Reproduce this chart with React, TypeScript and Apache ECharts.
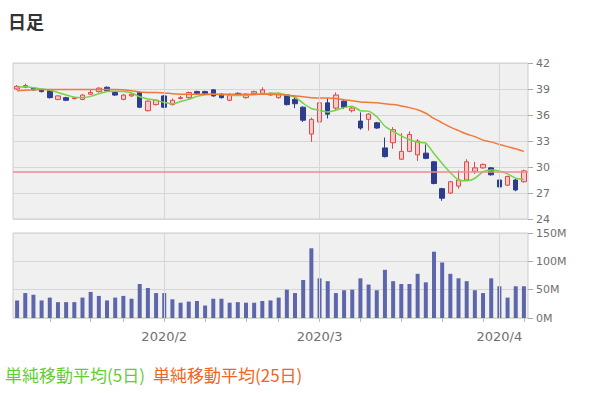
import React, { useEffect, useRef } from "react";
import * as echarts from "echarts";

const dates = [
  "2020/1/7", "2020/1/8", "2020/1/9", "2020/1/10", "2020/1/13", "2020/1/14", "2020/1/15", "2020/1/16", "2020/1/17", "2020/1/21",
  "2020/1/22", "2020/1/23", "2020/1/24", "2020/1/27", "2020/1/28", "2020/1/29", "2020/1/30", "2020/1/31",
  "2020/2/3", "2020/2/4", "2020/2/5", "2020/2/6", "2020/2/7", "2020/2/10", "2020/2/11", "2020/2/12", "2020/2/13", "2020/2/14",
  "2020/2/18", "2020/2/19", "2020/2/20", "2020/2/21", "2020/2/24", "2020/2/25", "2020/2/26", "2020/2/27", "2020/2/28",
  "2020/3/2", "2020/3/3", "2020/3/4", "2020/3/5", "2020/3/6", "2020/3/9", "2020/3/10", "2020/3/11", "2020/3/12", "2020/3/13",
  "2020/3/16", "2020/3/17", "2020/3/18", "2020/3/19", "2020/3/20", "2020/3/23", "2020/3/24", "2020/3/25", "2020/3/26", "2020/3/27",
  "2020/3/30", "2020/3/31",
  "2020/4/1", "2020/4/2", "2020/4/3", "2020/4/6",
];

const opens = [
  39.0, 39.2, 39.1, 38.9, 38.8, 37.8, 38.0, 37.9, 37.8, 38.4,
  38.7, 39.2, 38.6, 37.8, 38.2, 38.6, 36.5, 37.2, 38.2, 37.2,
  37.9, 38.0, 38.7, 38.7, 38.9, 38.4, 37.7, 38.5, 38.0, 38.5,
  38.5, 38.3, 38.0, 38.3, 37.8, 36.9, 33.8, 35.2, 37.4, 36.8,
  37.6, 36.5, 35.3, 35.5, 35.1, 32.2, 32.8, 30.9, 31.8, 31.4,
  31.6, 30.6, 27.5, 27.0, 27.8, 28.5, 29.5, 29.9, 29.9, 28.5,
  27.9, 28.5, 28.3,
];
const closes = [
  39.3, 39.4, 38.9, 38.7, 38.0, 38.2, 37.7, 38.0, 38.3, 38.6,
  39.1, 38.8, 38.3, 38.3, 38.4, 36.9, 37.6, 37.7, 36.9, 37.7,
  38.0, 38.6, 38.5, 38.5, 38.2, 38.0, 38.3, 38.3, 38.4, 38.7,
  38.9, 38.5, 38.4, 37.2, 37.3, 35.4, 35.5, 37.4, 36.1, 38.3,
  36.9, 36.8, 34.5, 36.1, 34.5, 31.2, 34.3, 31.8, 33.75, 33.0,
  31.0, 28.1, 26.4, 28.3, 28.5, 30.6, 29.9, 30.3, 29.1, 27.7,
  28.9, 27.35, 29.55,
];
const lows = [
  38.9, 39.1, 38.8, 38.6, 37.9, 37.7, 37.6, 37.8, 37.7, 38.3,
  38.6, 38.7, 38.2, 37.7, 38.1, 36.8, 36.4, 37.1, 36.8, 37.1,
  37.8, 37.9, 38.4, 38.4, 38.1, 37.9, 37.6, 38.2, 37.9, 38.4,
  38.4, 38.2, 37.9, 37.1, 36.8, 35.2, 32.9, 35.0, 35.6, 36.6,
  36.7, 36.3, 34.3, 34.2, 34.4, 31.1, 32.1, 30.8, 31.7, 30.7,
  30.9, 28.0, 26.1, 26.9, 27.5, 28.4, 29.2, 29.8, 29.0, 27.6,
  27.8, 27.2, 28.2,
];
const highs = [
  39.45, 39.6, 39.2, 39.0, 38.9, 38.3, 38.1, 38.1, 38.4, 38.9,
  39.2, 39.3, 38.7, 38.4, 38.5, 38.7, 37.7, 37.8, 38.3, 37.9,
  38.2, 38.7, 38.8, 38.8, 39.0, 38.5, 38.5, 38.6, 38.5, 38.8,
  39.2, 38.6, 38.5, 38.4, 38.3, 37.0, 35.7, 37.6, 37.9, 38.6,
  37.7, 36.9, 36.3, 36.2, 35.2, 33.4, 34.6, 33.9, 34.1, 33.2,
  32.6, 30.7, 27.6, 28.4, 29.6, 30.9, 30.6, 30.4, 30.0, 28.6,
  29.0, 28.6, 29.7,
];

// volume, in millions
const volumes = [
  31, 44, 41, 31, 36, 28, 28, 28, 36, 46,
  39, 31, 36, 39, 34, 60, 53, 44, 44, 33,
  27, 29, 30, 22, 34, 34, 27, 28, 27, 27,
  30, 31, 36, 50, 44, 67, 123, 70, 65, 44,
  49, 50, 70, 59, 49, 85, 65, 60, 60, 78,
  63, 117, 98, 78, 70, 65, 49, 44, 70, 56,
  36, 56, 56,
];

const ma5 = [
  39.2, 39.25, 39.15, 39.0, 38.85, 38.6, 38.3, 38.05, 38.0, 38.15,
  38.45, 38.7, 38.75, 38.7, 38.55, 38.1, 37.85, 37.7, 37.45, 37.3,
  37.55, 37.8, 38.15, 38.35, 38.4, 38.35, 38.3, 38.25, 38.25, 38.35,
  38.45, 38.5, 38.55, 38.3, 38.05, 37.35, 36.75, 36.55, 36.35, 36.55,
  36.85, 37.0, 36.5, 36.45, 35.8, 34.7, 34.1, 33.6, 33.15, 32.85,
  32.75, 31.55, 30.4, 29.35, 28.5, 28.4, 28.7, 29.45, 29.65, 29.55,
  29.2, 28.7, 28.55,
];

const ma25 = [
  38.8, 38.85, 38.9, 38.95, 38.95, 38.95, 38.95, 38.95, 38.95, 38.95,
  38.95, 38.95, 38.95, 38.9, 38.8, 38.65, 38.6, 38.6, 38.55, 38.45,
  38.4, 38.4, 38.4, 38.4, 38.4, 38.4, 38.4, 38.4, 38.4, 38.4,
  38.4, 38.4, 38.35, 38.3, 38.2, 38.1, 38.0, 37.95, 37.95, 37.9,
  37.75, 37.65, 37.5, 37.45, 37.4, 37.3, 37.2, 37.05, 36.85, 36.6,
  36.2, 35.6, 35.1, 34.6, 34.2, 33.8, 33.5, 33.1, 32.9, 32.6,
  32.35, 32.1, 31.8,
];

const referencePrice = 29.5;
const priceTicks = { min: 24, max: 42, interval: 3 };
const volumeTicks = { min: 0, max: 150, interval: 50 };

const titleText = "日足";
const legend5 = "単純移動平均(5日)";
const legend25 = "単純移動平均(25日)";

const COLORS = {
  up: "#f7c9c9",
  upBorder: "#e24848",
  down: "#2e3c8c",
  volume: "#5d66ab",
  ma5: "#74d443",
  ma25: "#ee7a3a",
  ref: "#ef8c8c",
  grid: "#d6d6d6",
  bg: "#f0f0f0",
  border: "#cccccc",
  label: "#707070",
};

export default function App() {
  const ref = useRef<HTMLDivElement>(null);

  useEffect(() => {
    if (!ref.current) return;
    const chart = echarts.init(ref.current, null, { renderer: "svg" });

    const parsed = dates.map((d) => {
      const [y, m, dd] = d.split("/").map(Number);
      return new Date(y, m - 1, dd);
    });
    const monthStart = parsed.map((d, i) => i > 0 && d.getMonth() !== parsed[i - 1].getMonth());
    const weekStart = parsed.map((d, i) => i > 0 && d.getDay() <= parsed[i - 1].getDay());
    const monthStartDates = dates.filter((_, i) => monthStart[i]);

    const candleData = dates.map((_, i) => [opens[i], closes[i], lows[i], highs[i]]);

    const yLabelFont = { color: COLORS.label, fontSize: 11, lineHeight: 11, fontFamily: "DejaVu Sans" };
    const xLabelFont = { color: COLORS.label, fontSize: 13, fontFamily: "DejaVu Sans" };

    const gridLineSeries = (idx: number) => ({
      type: "line",
      xAxisIndex: idx,
      yAxisIndex: idx,
      data: dates.map(() => "-"),
      z: 1,
      silent: true,
      markLine: {
        silent: true,
        symbol: ["none", "none"],
        label: { show: false },
        lineStyle: { color: COLORS.grid, type: "solid", width: 1 },
        emphasis: { disabled: true },
        data: monthStartDates.map((d) => ({ xAxis: d })),
      },
    });

    const option: any = {
      animation: false,
      backgroundColor: "#ffffff",
      graphic: [
        {
          type: "text",
          x: 8,
          y: 21,
          style: {
            text: titleText,
            fill: "#333333",
            font: 'bold 18px "Noto Sans CJK JP"',
            verticalAlign: "middle",
          },
        },
        {
          type: "text",
          x: 5,
          y: 374,
          style: {
            text: legend5,
            fill: "#66cc33",
            font: '17px "Noto Sans CJK JP"',
            verticalAlign: "middle",
          },
        },
        {
          type: "text",
          x: 153,
          y: 374,
          style: {
            text: legend25,
            fill: "#ee6622",
            font: '17px "Noto Sans CJK JP"',
            verticalAlign: "middle",
          },
        },
      ],
      grid: [
        {
          left: 13,
          right: 72,
          top: 63,
          height: 156,
          show: true,
          backgroundColor: COLORS.bg,
          borderColor: COLORS.border,
          borderWidth: 1,
        },
        {
          left: 13,
          right: 72,
          top: 233,
          height: 85,
          show: true,
          backgroundColor: COLORS.bg,
          borderColor: COLORS.border,
          borderWidth: 1,
        },
      ],
      xAxis: [
        {
          type: "category",
          gridIndex: 0,
          data: dates,
          boundaryGap: true,
          axisLine: { show: false },
          axisTick: { show: false },
          axisLabel: { show: false },
          splitLine: { show: false },
        },
        {
          type: "category",
          gridIndex: 1,
          data: dates,
          boundaryGap: true,
          axisLine: { show: false },
          axisTick: {
            show: true,
            alignWithLabel: true,
            interval: (i: number) => weekStart[i],
            length: 4,
            lineStyle: { color: "#bbbbbb" },
          },
          axisLabel: {
            ...xLabelFont,
            interval: (i: number) => monthStart[i],
            formatter: (v: string) => {
              const [y, m] = v.split("/");
              return `${y}/${m}`;
            },
            margin: 12,
          },
          splitLine: { show: false },
        },
      ],
      yAxis: [
        {
          type: "value",
          gridIndex: 0,
          position: "right",
          min: priceTicks.min,
          max: priceTicks.max,
          interval: priceTicks.interval,
          axisLine: { show: false },
          axisTick: { show: true, length: 5, lineStyle: { color: "#aaaaaa" } },
          axisLabel: { ...yLabelFont, margin: 8 },
          splitLine: { show: true, lineStyle: { color: COLORS.grid } },
        },
        {
          type: "value",
          gridIndex: 1,
          position: "right",
          min: volumeTicks.min,
          max: volumeTicks.max,
          interval: volumeTicks.interval,
          axisLine: { show: false },
          axisTick: { show: true, length: 5, lineStyle: { color: "#aaaaaa" } },
          axisLabel: { ...yLabelFont, margin: 8, formatter: "{value}M" },
          splitLine: { show: true, lineStyle: { color: COLORS.grid } },
        },
      ],
      series: [
        gridLineSeries(0),
        gridLineSeries(1),
        {
          name: "price",
          type: "candlestick",
          xAxisIndex: 0,
          yAxisIndex: 0,
          data: candleData,
          barWidth: 5,
          z: 3,
          itemStyle: {
            color: COLORS.up,
            color0: COLORS.down,
            borderColor: COLORS.upBorder,
            borderColor0: COLORS.down,
            borderWidth: 1,
          },
          markLine: {
            silent: true,
            symbol: ["none", "none"],
            label: { show: false },
            lineStyle: { color: COLORS.ref, type: "solid", width: 1.5 },
            data: [{ yAxis: referencePrice }],
          },
        },
        {
          name: legend5,
          type: "line",
          xAxisIndex: 0,
          yAxisIndex: 0,
          data: ma5,
          showSymbol: false,
          symbol: "none",
          smooth: 0.2,
          z: 4,
          lineStyle: { color: COLORS.ma5, width: 1.5 },
        },
        {
          name: legend25,
          type: "line",
          xAxisIndex: 0,
          yAxisIndex: 0,
          data: ma25,
          showSymbol: false,
          symbol: "none",
          smooth: 0.2,
          z: 4,
          lineStyle: { color: COLORS.ma25, width: 1.5 },
        },
        {
          name: "volume",
          type: "bar",
          xAxisIndex: 1,
          yAxisIndex: 1,
          data: volumes,
          barWidth: 4,
          z: 3,
          itemStyle: { color: COLORS.volume },
        },
      ],
    };

    chart.setOption(option);
    return () => {
      chart.dispose();
    };
  }, []);

  return (
    <div
      ref={ref}
      style={{ position: "fixed", left: 0, top: 0, width: 600, height: 393, background: "#fff" }}
    />
  );
}
